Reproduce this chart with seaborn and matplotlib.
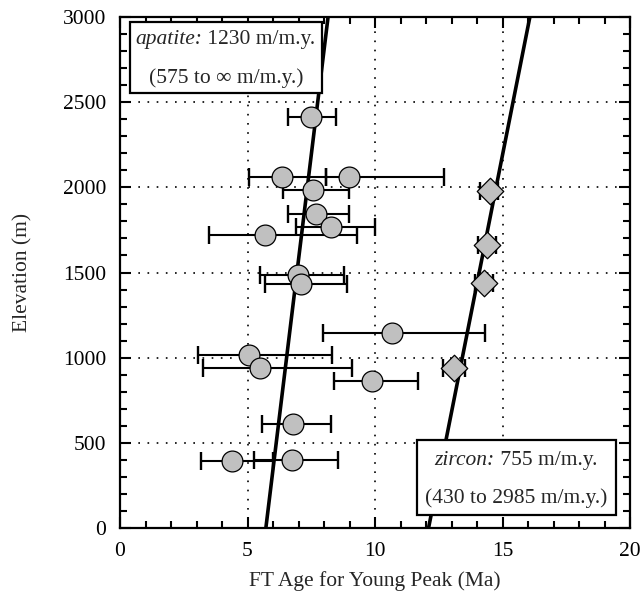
import numpy as np
import pandas as pd
import matplotlib
matplotlib.use("Agg")
import matplotlib.pyplot as plt
from matplotlib.patches import Rectangle
import seaborn as sns

# ---------------- data ----------------
apatite_age = [7.49, 6.37, 8.98, 7.55, 7.69, 8.27, 5.67, 6.99, 7.09, 10.68, 5.07, 5.49, 9.87, 6.77, 4.38, 6.76]
apatite_elev = [2415, 2059, 2059, 1984, 1843, 1769, 1718, 1487, 1434, 1145, 1017, 941, 861, 610, 392, 400]
apatite_lo = [6.60, 5.06, 8.08, 6.38, 6.57, 6.89, 3.48, 5.49, 5.69, 7.97, 3.07, 3.27, 8.39, 5.58, 3.18, 5.25]
apatite_hi = [8.47, 8.08, 12.69, 8.98, 8.98, 10.00, 9.28, 8.78, 8.89, 14.31, 8.30, 9.08, 11.67, 8.27, 6.00, 8.56]

zircon_age = [14.51, 14.38, 14.29, 13.10]
zircon_elev = [1980, 1661, 1436, 940]
zircon_lo = [14.12, 14.02, 13.92, 12.68]
zircon_hi = [14.82, 14.73, 14.64, 13.53]

# regression lines: age at zero elevation (Ma) and exhumation rate (m/m.y.)
apatite_fit = {"age0": 5.72, "rate": 1230}
zircon_fit = {"age0": 12.10, "rate": 755}
fit_elev = [0, 3000]

apatite_text = ("apatite:", " 1230 m/m.y.", "(575 to \u221e m/m.y.)")
zircon_text = ("zircon:", " 755 m/m.y.", "(430 to 2985 m/m.y.)")

x_label = "FT Age for Young Peak (Ma)"
y_label = "Elevation (m)"
x_ticks = [0, 5, 10, 15, 20]
y_ticks = [0, 500, 1000, 1500, 2000, 2500, 3000]

# ---------------- style ----------------
sns.set_theme(style="ticks")
plt.rcParams["font.family"] = ["Liberation Serif", "DejaVu Serif"]
FS = 15.5

fig = plt.figure(figsize=(6.44, 5.97), dpi=100)
ax = fig.add_axes([120 / 644, 69 / 597, 510 / 644, 511 / 597])

gray = "#c0c0c0"

apa = pd.DataFrame({"age": apatite_age, "elev": apatite_elev,
                    "lo": apatite_lo, "hi": apatite_hi})
zir = pd.DataFrame({"age": zircon_age, "elev": zircon_elev,
                    "lo": zircon_lo, "hi": zircon_hi})

# error bars
for df in (apa, zir):
    xerr = np.vstack([df["age"] - df["lo"], df["hi"] - df["age"]])
    ax.errorbar(df["age"], df["elev"], xerr=xerr, fmt="none", ecolor="black",
                elinewidth=1.5, capsize=6.8, capthick=1.7, zorder=2)

# fit lines
for fit in (apatite_fit, zircon_fit):
    ln = pd.DataFrame({"elev": fit_elev})
    ln["age"] = fit["age0"] + ln["elev"] / fit["rate"]
    sns.lineplot(data=ln, x="age", y="elev", color="black", lw=2.6, ax=ax,
                 sort=False, estimator=None, zorder=3)

# markers
sns.scatterplot(data=apa, x="age", y="elev", marker="o", s=15 ** 2,
                color=gray, edgecolor="black", linewidth=0.9, ax=ax, zorder=4)
sns.scatterplot(data=zir, x="age", y="elev", marker="D", s=13.5 ** 2,
                color=gray, edgecolor="black", linewidth=0.9, ax=ax, zorder=4)

# axes
ax.set_xlim(0, 20)
ax.set_ylim(0, 3000)
ax.set_xticks(x_ticks)
ax.set_yticks(y_ticks)
ax.set_xticks(np.arange(0, 21, 1), minor=True)
ax.set_yticks(np.arange(0, 3001, 100), minor=True)
ax.tick_params(which="both", direction="in", top=True, right=True,
               colors="black", width=1.5, labelsize=FS, pad=10)
ax.tick_params(which="major", length=8)
ax.tick_params(which="minor", length=5)
for s in ax.spines.values():
    s.set_linewidth(1.6)
    s.set_color("black")
ax.grid(True, which="major", color="black", linestyle=(0, (1, 4.5)), linewidth=1.2)
ax.set_axisbelow(False)
for gl in ax.get_xgridlines() + ax.get_ygridlines():
    gl.set_zorder(1)

ax.set_xlabel(x_label, fontsize=FS, labelpad=7)
ax.set_ylabel(y_label, fontsize=FS, labelpad=22)

# text boxes
def text_box(x0, x1, y0, y1, lines, xstart, yl1, yl2):
    ax.add_patch(Rectangle((x0, y0), x1 - x0, y1 - y0, fill=True, facecolor="white",
                           edgecolor="black", linewidth=1.6, zorder=6))
    t1 = ax.text(xstart, yl1, lines[0], style="italic", fontsize=FS,
                 ha="left", va="center", zorder=7)
    ax.annotate(lines[1], xy=(1, 0.5), xycoords=t1, fontsize=FS,
                ha="left", va="center", zorder=7)
    ax.text((x0 + x1) / 2, yl2, lines[2], fontsize=FS, ha="center",
            va="center", zorder=7)

text_box(0.39, 7.92, 2554, 2971, apatite_text, 0.59, 2865, 2642)
text_box(11.65, 19.45, 76, 517, zircon_text, 12.33, 399, 176)

fig.savefig("out.png", dpi=100)
